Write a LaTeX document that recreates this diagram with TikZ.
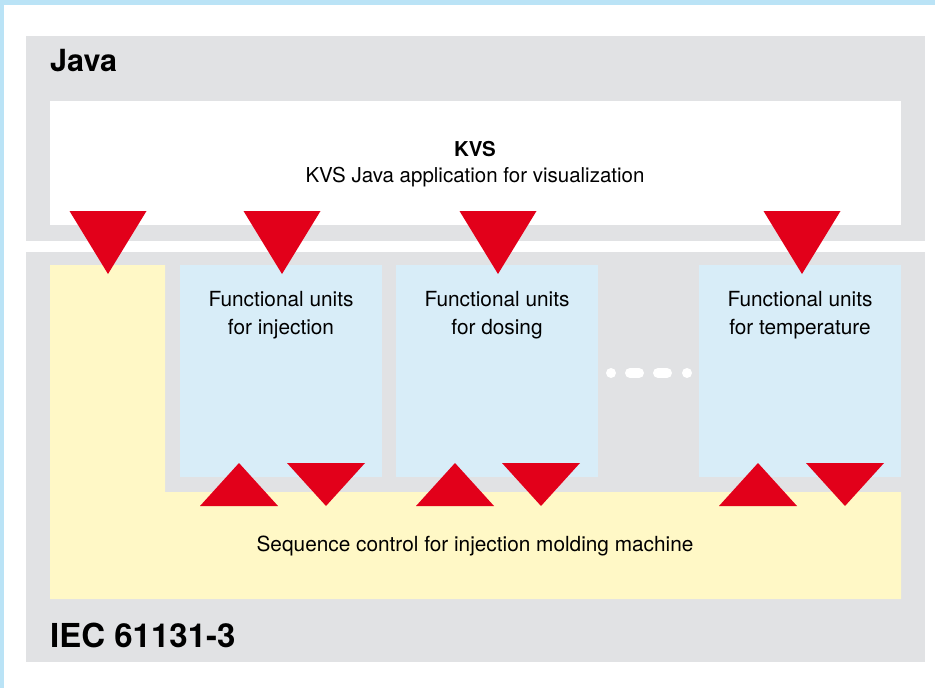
\documentclass[tikz,border=0pt]{standalone}
\usepackage{fontspec}
\setmainfont{TeX Gyre Heros}
\definecolor{framecol}{RGB}{186,227,246}
\definecolor{layergray}{RGB}{225,226,228}
\definecolor{seqyellow}{RGB}{255,248,198}
\definecolor{unitblue}{RGB}{216,237,248}
\definecolor{arrowred}{RGB}{226,0,26}
\begin{document}
\begin{tikzpicture}[x=1pt,y=-1pt,
  layer label/.style={anchor=west,inner sep=0pt,font=\fontsize{33}{36}\selectfont\bfseries},
  box text/.style={align=center,inner sep=0pt,font=\fontsize{20.8}{28.5}\selectfont},
  down tri/.style={fill=arrowred},
  up tri/.style={fill=arrowred}]

  \useasboundingbox (0,0) rectangle (935,688);
  \fill[framecol] (0,0) rectangle (935,5);
  \fill[framecol] (0,0) rectangle (4,688);

  % Java layer
  \fill[layergray] (26,36) rectangle (925,241);
  \fill[white] (50,101) rectangle (901,225);
  \node[layer label,font=\fontsize{30.5}{36}\selectfont\bfseries] (java) at (50,61) {Java};
  \node[box text,font=\fontsize{20.5}{28.5}\selectfont\bfseries] (kvs) at (475,149) {KVS};
  \node[box text,font=\fontsize{20.5}{28.5}\selectfont] (kvsapp) at (475,177) {KVS Java application for visualization};

  % IEC layer
  \fill[layergray] (26,252) rectangle (925,662);
  \fill[seqyellow] (50,265) -- (165,265) -- (165,492) -- (901,492)
    -- (901,599) -- (50,599) -- cycle;
  \fill[unitblue] (180,265) rectangle (382,477);
  \fill[unitblue] (396,265) rectangle (598,477);
  \fill[unitblue] (699,265) rectangle (901,477);
  \draw[white,line width=10pt,line cap=round]
    (611,373) -- (611.01,373) (630,373) -- (639,373)
    (658,373) -- (667,373) (687,373) -- (687.01,373);

  \node[box text] (inj) at (281,315) {Functional units\\for injection};
  \node[box text] (dos) at (497,315) {Functional units\\for dosing};
  \node[box text] (temp) at (800,315) {Functional units\\for temperature};
  \node[box text] (seq) at (475,546) {Sequence control for injection molding machine};
  \node[layer label] (iec) at (50,635) {IEC 61131-3};

  % data flow marks
  \foreach \x in {108,282,498,802}
    \fill[down tri] (\x-38.5,211) -- (\x+38.5,211) -- (\x,274) -- cycle;
  \foreach \u/\d in {239/326,455/541,758/845}{
    \fill[up tri] (\u-39,506) -- (\u+39,506) -- (\u,463) -- cycle;
    \fill[down tri] (\d-39,463) -- (\d+39,463) -- (\d,506) -- cycle;
  }
\end{tikzpicture}
\end{document}
